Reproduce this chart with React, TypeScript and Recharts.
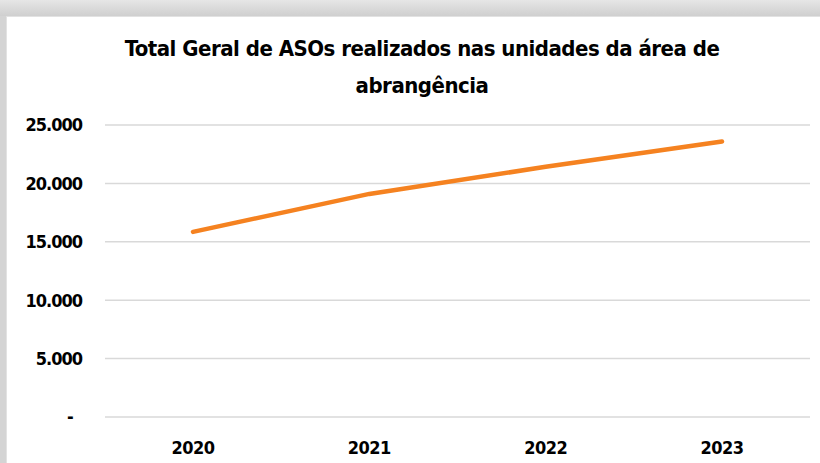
import React from 'react';
import { LineChart, Line, XAxis, YAxis, CartesianGrid } from 'recharts';

const years = ['2020', '2021', '2022', '2023'];
const totals = [15850, 19100, 21420, 23590];
const yTicks = [0, 5000, 10000, 15000, 20000, 25000];

const data = years.map((year, i) => ({ year, total: totals[i] }));

const FONT = '"Liberation Sans Narrow", "DejaVu Sans Condensed", sans-serif';

// Excel accounting style: zero shows as a dash, thousands with a dot
const fmt = (v: number) => (v === 0 ? '-\u00a0\u00a0' : v.toLocaleString('pt-BR'));

export default function App() {
  return (
    <div style={{ position: 'fixed', left: 0, top: 0, width: 820, height: 463, background: '#d4d4d4', overflow: 'hidden' }}>
      <div
        style={{
          position: 'absolute',
          left: 0,
          top: 0,
          width: 820,
          height: 16,
          background: 'linear-gradient(#e6e6e6, #cfcfcf)',
        }}
      />
      <div style={{ position: 'absolute', left: 6, top: 16, width: 814, height: 447, background: '#fff', borderLeft: '1px solid #e2e2e2', borderTop: '1px solid #e2e2e2' }} />
      <div
        style={{
          position: 'absolute',
          left: 0,
          top: 30,
          width: 844,
          textAlign: 'center',
          fontFamily: FONT,
          fontWeight: 700,
          fontSize: 22,
          letterSpacing: -0.5,
          lineHeight: '37px',
          color: '#000',
        }}
      >
        Total Geral de ASOs realizados nas unidades da área de
        <br />
        abrangência
      </div>
      <div style={{ position: 'absolute', left: 0, top: 0 }}>
        <LineChart width={820} height={463} data={data} margin={{ top: 125, right: 10, bottom: 16, left: 10 }}>
          <CartesianGrid vertical={false} stroke="#d9d9d9" strokeWidth={1.5} />
          <XAxis
            dataKey="year"
            axisLine={false}
            tickLine={false}
            height={30}
            tickMargin={18}
            padding={{ left: 88, right: 88 }}
            tick={{ fill: '#000', fontSize: 18, fontWeight: 700, fontFamily: FONT, letterSpacing: -0.5 }}
          />
          <YAxis
            domain={[0, 25000]}
            ticks={yTicks}
            interval={0}
            width={95}
            axisLine={false}
            tickLine={false}
            tickMargin={17}
            tickFormatter={fmt}
            tick={{ fill: '#000', fontSize: 18, fontWeight: 700, fontFamily: FONT, letterSpacing: -1 }}
          />
          <Line
            type="linear"
            dataKey="total"
            stroke="#F58220"
            strokeWidth={4.5}
            strokeLinecap="round"
            dot={false}
            activeDot={false}
            isAnimationActive={false}
          />
        </LineChart>
      </div>
    </div>
  );
}
